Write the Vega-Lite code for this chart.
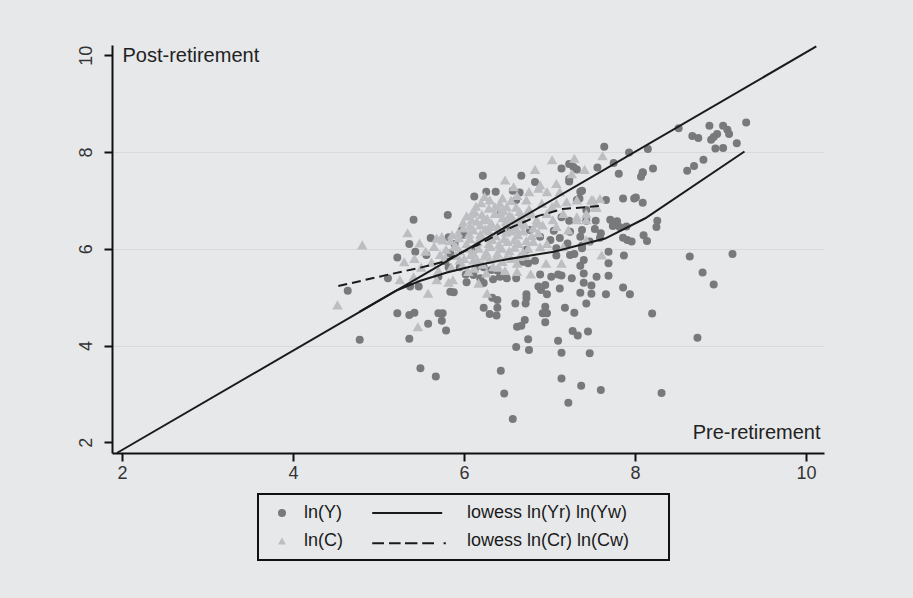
{
  "$schema": "https://vega.github.io/schema/vega-lite/v6.json",
  "width": 712,
  "height": 408,
  "autosize": "none",
  "padding": {"left": 112, "top": 45, "right": 89, "bottom": 145},
  "background": "#e7e8ea",
  "config": {
    "view": {"stroke": null},
    "font": "Liberation Sans",
    "axis": {"labelFont": "Liberation Sans", "titleFont": "Liberation Sans", "titleFontWeight": "normal"},
    "legend": {
      "padding": 10,
      "strokeColor": "#111111",
      "strokeWidth": 2,
      "labelFont": "Liberation Sans",
      "labelFontSize": 18,
      "labelColor": "#1a1a1a",
      "labelOffset": 13,
      "labelLimit": 400,
      "symbolSize": 64,
      "symbolOffset": 5,
      "symbolStrokeWidth": 0,
      "symbolOpacity": 1,
      "columnPadding": 29,
      "rowPadding": 10
    }
  },
  "datasets": {
    "circ": [
      {"x":8.51,"y":8.49,"series":"ln(Y)"},{"x":8.87,"y":8.54,"series":"ln(Y)"},{"x":9.03,"y":8.54,"series":"ln(Y)"},{"x":9.08,"y":8.46,"series":"ln(Y)"},{"x":9.10,"y":8.37,"series":"ln(Y)"},{"x":9.30,"y":8.61,"series":"ln(Y)"},{"x":8.67,"y":8.33,"series":"ln(Y)"},{"x":8.74,"y":8.29,"series":"ln(Y)"},{"x":8.96,"y":8.37,"series":"ln(Y)"},{"x":8.92,"y":8.31,"series":"ln(Y)"},{"x":8.89,"y":8.25,"series":"ln(Y)"},{"x":8.94,"y":8.07,"series":"ln(Y)"},{"x":9.03,"y":8.08,"series":"ln(Y)"},{"x":9.19,"y":8.18,"series":"ln(Y)"},{"x":8.15,"y":8.06,"series":"ln(Y)"},{"x":8.80,"y":7.84,"series":"ln(Y)"},{"x":8.69,"y":7.71,"series":"ln(Y)"},{"x":8.61,"y":7.61,"series":"ln(Y)"},{"x":8.21,"y":7.66,"series":"ln(Y)"},{"x":8.09,"y":7.57,"series":"ln(Y)"},{"x":8.07,"y":7.49,"series":"ln(Y)"},{"x":8.09,"y":6.95,"series":"ln(Y)"},{"x":8.26,"y":6.58,"series":"ln(Y)"},{"x":8.25,"y":6.45,"series":"ln(Y)"},{"x":8.10,"y":6.28,"series":"ln(Y)"},{"x":8.14,"y":6.16,"series":"ln(Y)"},{"x":8.64,"y":5.84,"series":"ln(Y)"},{"x":9.14,"y":5.89,"series":"ln(Y)"},{"x":8.20,"y":4.66,"series":"ln(Y)"},{"x":8.79,"y":5.51,"series":"ln(Y)"},{"x":8.92,"y":5.26,"series":"ln(Y)"},{"x":8.73,"y":4.16,"series":"ln(Y)"},{"x":8.31,"y":3.02,"series":"ln(Y)"},
      {"x":7.64,"y":8.11,"series":"ln(Y)"},{"x":7.93,"y":7.99,"series":"ln(Y)"},{"x":7.75,"y":7.77,"series":"ln(Y)"},{"x":7.81,"y":7.55,"series":"ln(Y)"},{"x":7.14,"y":7.66,"series":"ln(Y)"},{"x":7.23,"y":7.75,"series":"ln(Y)"},{"x":7.32,"y":7.64,"series":"ln(Y)"},{"x":7.56,"y":7.68,"series":"ln(Y)"},{"x":6.67,"y":7.51,"series":"ln(Y)"},{"x":6.22,"y":7.51,"series":"ln(Y)"},{"x":6.83,"y":7.38,"series":"ln(Y)"},{"x":7.23,"y":7.39,"series":"ln(Y)"},{"x":7.36,"y":7.18,"series":"ln(Y)"},{"x":6.26,"y":7.18,"series":"ln(Y)"},{"x":6.37,"y":7.18,"series":"ln(Y)"},{"x":6.65,"y":7.16,"series":"ln(Y)"},{"x":6.61,"y":7.01,"series":"ln(Y)"},{"x":7.66,"y":7.01,"series":"ln(Y)"},{"x":7.86,"y":7.04,"series":"ln(Y)"},{"x":7.99,"y":7.04,"series":"ln(Y)"},{"x":7.54,"y":6.58,"series":"ln(Y)"},{"x":7.43,"y":6.58,"series":"ln(Y)"},{"x":7.23,"y":6.58,"series":"ln(Y)"},{"x":7.71,"y":6.60,"series":"ln(Y)"},{"x":7.74,"y":6.47,"series":"ln(Y)"},{"x":7.82,"y":6.45,"series":"ln(Y)"},{"x":7.90,"y":6.46,"series":"ln(Y)"},{"x":7.24,"y":6.35,"series":"ln(Y)"},{"x":7.38,"y":6.39,"series":"ln(Y)"},{"x":7.60,"y":6.32,"series":"ln(Y)"},{"x":7.05,"y":6.37,"series":"ln(Y)"},{"x":7.01,"y":6.18,"series":"ln(Y)"},{"x":6.77,"y":6.39,"series":"ln(Y)"},{"x":7.43,"y":6.80,"series":"ln(Y)"},{"x":7.32,"y":7.01,"series":"ln(Y)"},{"x":7.23,"y":7.44,"series":"ln(Y)"},{"x":7.38,"y":7.20,"series":"ln(Y)"},{"x":7.35,"y":7.04,"series":"ln(Y)"},{"x":7.14,"y":6.65,"series":"ln(Y)"},{"x":8.01,"y":7.06,"series":"ln(Y)"},{"x":8.09,"y":7.58,"series":"ln(Y)"},{"x":7.28,"y":7.69,"series":"ln(Y)"},{"x":7.79,"y":6.57,"series":"ln(Y)"},{"x":7.53,"y":6.41,"series":"ln(Y)"},{"x":7.38,"y":6.06,"series":"ln(Y)"},{"x":7.91,"y":6.18,"series":"ln(Y)"},
      {"x":7.12,"y":6.22,"series":"ln(Y)"},{"x":7.21,"y":6.11,"series":"ln(Y)"},{"x":7.36,"y":6.25,"series":"ln(Y)"},{"x":7.47,"y":6.15,"series":"ln(Y)"},{"x":7.59,"y":6.23,"series":"ln(Y)"},{"x":7.86,"y":6.23,"series":"ln(Y)"},{"x":7.96,"y":6.15,"series":"ln(Y)"},{"x":7.38,"y":6.01,"series":"ln(Y)"},{"x":7.69,"y":5.94,"series":"ln(Y)"},{"x":7.29,"y":5.89,"series":"ln(Y)"},{"x":7.08,"y":6.01,"series":"ln(Y)"},{"x":7.08,"y":5.86,"series":"ln(Y)"},{"x":6.83,"y":5.75,"series":"ln(Y)"},{"x":6.69,"y":5.77,"series":"ln(Y)"},{"x":7.40,"y":5.77,"series":"ln(Y)"},{"x":7.36,"y":5.65,"series":"ln(Y)"},{"x":7.69,"y":5.70,"series":"ln(Y)"},{"x":7.87,"y":5.86,"series":"ln(Y)"},{"x":6.89,"y":5.47,"series":"ln(Y)"},{"x":7.02,"y":5.42,"series":"ln(Y)"},{"x":7.14,"y":5.45,"series":"ln(Y)"},{"x":7.26,"y":5.39,"series":"ln(Y)"},{"x":7.40,"y":5.49,"series":"ln(Y)"},{"x":7.55,"y":5.42,"series":"ln(Y)"},{"x":7.69,"y":5.44,"series":"ln(Y)"},{"x":7.40,"y":5.30,"series":"ln(Y)"},{"x":7.49,"y":5.24,"series":"ln(Y)"},{"x":7.12,"y":5.18,"series":"ln(Y)"},{"x":6.95,"y":5.25,"series":"ln(Y)"},{"x":6.87,"y":5.22,"series":"ln(Y)"},{"x":6.90,"y":5.15,"series":"ln(Y)"},{"x":6.97,"y":5.06,"series":"ln(Y)"},{"x":7.36,"y":5.09,"series":"ln(Y)"},{"x":7.49,"y":5.07,"series":"ln(Y)"},{"x":7.66,"y":5.06,"series":"ln(Y)"},{"x":7.86,"y":5.20,"series":"ln(Y)"},{"x":7.94,"y":5.06,"series":"ln(Y)"},{"x":7.43,"y":4.87,"series":"ln(Y)"},{"x":6.61,"y":5.39,"series":"ln(Y)"},{"x":6.42,"y":5.42,"series":"ln(Y)"},{"x":6.34,"y":5.37,"series":"ln(Y)"},{"x":6.23,"y":5.29,"series":"ln(Y)"},{"x":6.73,"y":5.06,"series":"ln(Y)"},{"x":6.73,"y":4.98,"series":"ln(Y)"},{"x":6.72,"y":4.87,"series":"ln(Y)"},{"x":6.60,"y":4.87,"series":"ln(Y)"},{"x":6.39,"y":4.78,"series":"ln(Y)"},{"x":6.23,"y":4.78,"series":"ln(Y)"},{"x":6.30,"y":4.65,"series":"ln(Y)"},{"x":6.38,"y":4.62,"series":"ln(Y)"},{"x":6.95,"y":4.80,"series":"ln(Y)"},{"x":6.92,"y":4.67,"series":"ln(Y)"},{"x":6.97,"y":4.67,"series":"ln(Y)"},{"x":7.18,"y":4.78,"series":"ln(Y)"},{"x":7.29,"y":4.68,"series":"ln(Y)"},{"x":6.95,"y":4.48,"series":"ln(Y)"},{"x":6.71,"y":4.53,"series":"ln(Y)"},{"x":6.62,"y":4.39,"series":"ln(Y)"},{"x":6.67,"y":4.41,"series":"ln(Y)"},{"x":7.10,"y":5.47,"series":"ln(Y)"},
      {"x":7.27,"y":4.30,"series":"ln(Y)"},{"x":7.33,"y":4.21,"series":"ln(Y)"},{"x":7.45,"y":4.29,"series":"ln(Y)"},
      {"x":6.75,"y":4.13,"series":"ln(Y)"},{"x":6.61,"y":3.97,"series":"ln(Y)"},{"x":6.76,"y":3.91,"series":"ln(Y)"},{"x":7.10,"y":4.10,"series":"ln(Y)"},{"x":7.14,"y":3.85,"series":"ln(Y)"},{"x":7.47,"y":3.84,"series":"ln(Y)"},{"x":6.43,"y":3.48,"series":"ln(Y)"},{"x":7.14,"y":3.32,"series":"ln(Y)"},{"x":7.37,"y":3.17,"series":"ln(Y)"},{"x":7.60,"y":3.08,"series":"ln(Y)"},{"x":6.47,"y":3.01,"series":"ln(Y)"},{"x":7.22,"y":2.82,"series":"ln(Y)"},{"x":6.57,"y":2.48,"series":"ln(Y)"},
      {"x":5.22,"y":4.67,"series":"ln(Y)"},{"x":5.36,"y":4.63,"series":"ln(Y)"},{"x":5.42,"y":4.68,"series":"ln(Y)"},{"x":5.70,"y":4.67,"series":"ln(Y)"},{"x":5.75,"y":4.67,"series":"ln(Y)"},{"x":5.58,"y":4.45,"series":"ln(Y)"},{"x":5.74,"y":4.51,"series":"ln(Y)"},{"x":5.79,"y":4.31,"series":"ln(Y)"},{"x":5.36,"y":4.14,"series":"ln(Y)"},{"x":4.78,"y":4.12,"series":"ln(Y)"},{"x":5.49,"y":3.53,"series":"ln(Y)"},{"x":5.67,"y":3.36,"series":"ln(Y)"},
      {"x":6.12,"y":7.08,"series":"ln(Y)"},{"x":5.81,"y":6.70,"series":"ln(Y)"},{"x":5.41,"y":6.60,"series":"ln(Y)"},{"x":5.97,"y":6.37,"series":"ln(Y)"},{"x":6.00,"y":6.29,"series":"ln(Y)"},{"x":5.61,"y":6.22,"series":"ln(Y)"},{"x":5.82,"y":6.24,"series":"ln(Y)"},{"x":5.36,"y":6.10,"series":"ln(Y)"},{"x":5.43,"y":5.94,"series":"ln(Y)"},{"x":5.56,"y":5.87,"series":"ln(Y)"},{"x":5.22,"y":5.82,"series":"ln(Y)"},{"x":5.11,"y":5.39,"series":"ln(Y)"},{"x":4.64,"y":5.13,"series":"ln(Y)"},{"x":6.11,"y":5.46,"series":"ln(Y)"},{"x":6.03,"y":5.31,"series":"ln(Y)"},{"x":5.84,"y":5.11,"series":"ln(Y)"},{"x":5.88,"y":5.10,"series":"ln(Y)"},{"x":5.37,"y":5.22,"series":"ln(Y)"},{"x":5.47,"y":5.22,"series":"ln(Y)"},{"x":5.70,"y":5.42,"series":"ln(Y)"},{"x":6.32,"y":5.56,"series":"ln(Y)"},{"x":6.73,"y":5.98,"series":"ln(Y)"},{"x":6.69,"y":5.73,"series":"ln(Y)"},{"x":6.89,"y":6.25,"series":"ln(Y)"},{"x":7.24,"y":5.87,"series":"ln(Y)"},{"x":6.75,"y":5.70,"series":"ln(Y)"},{"x":6.14,"y":5.62,"series":"ln(Y)"},{"x":5.84,"y":5.90,"series":"ln(Y)"},{"x":5.82,"y":5.62,"series":"ln(Y)"},{"x":5.95,"y":5.62,"series":"ln(Y)"},{"x":6.02,"y":5.47,"series":"ln(Y)"},{"x":6.19,"y":5.39,"series":"ln(Y)"},{"x":6.23,"y":5.62,"series":"ln(Y)"},{"x":6.10,"y":5.94,"series":"ln(Y)"},{"x":5.78,"y":5.74,"series":"ln(Y)"},{"x":5.89,"y":6.10,"series":"ln(Y)"},{"x":6.50,"y":6.41,"series":"ln(Y)"},{"x":6.43,"y":6.73,"series":"ln(Y)"},{"x":6.67,"y":6.55,"series":"ln(Y)"},{"x":6.57,"y":7.20,"series":"ln(Y)"},{"x":6.50,"y":5.39,"series":"ln(Y)"},{"x":6.39,"y":4.94,"series":"ln(Y)"},{"x":6.33,"y":4.99,"series":"ln(Y)"},{"x":6.39,"y":5.55,"series":"ln(Y)"}
    ],
    "tri": [
      {"x":4.81,"y":6.08,"series":"ln(C)"},{"x":4.52,"y":4.84,"series":"ln(C)"},{"x":5.34,"y":6.33,"series":"ln(C)"},{"x":5.46,"y":4.39,"series":"ln(C)"},{"x":5.58,"y":5.08,"series":"ln(C)"},{"x":5.30,"y":5.73,"series":"ln(C)"},{"x":5.48,"y":6.12,"series":"ln(C)"},{"x":5.68,"y":6.22,"series":"ln(C)"},{"x":5.74,"y":6.25,"series":"ln(C)"},{"x":5.86,"y":6.29,"series":"ln(C)"},{"x":5.25,"y":5.36,"series":"ln(C)"},{"x":5.41,"y":5.42,"series":"ln(C)"},{"x":5.68,"y":5.36,"series":"ln(C)"},{"x":5.87,"y":5.36,"series":"ln(C)"},{"x":6.27,"y":5.08,"series":"ln(C)"},{"x":6.17,"y":5.29,"series":"ln(C)"},{"x":6.62,"y":5.53,"series":"ln(C)"},{"x":6.78,"y":5.48,"series":"ln(C)"},{"x":6.96,"y":5.70,"series":"ln(C)"},{"x":7.14,"y":5.70,"series":"ln(C)"},{"x":7.61,"y":5.87,"series":"ln(C)"},{"x":7.62,"y":7.92,"series":"ln(C)"},{"x":7.03,"y":7.84,"series":"ln(C)"},{"x":7.29,"y":7.87,"series":"ln(C)"},{"x":7.41,"y":7.64,"series":"ln(C)"},{"x":6.83,"y":7.64,"series":"ln(C)"},{"x":6.48,"y":7.42,"series":"ln(C)"},{"x":6.58,"y":7.28,"series":"ln(C)"},{"x":6.76,"y":7.18,"series":"ln(C)"},{"x":6.89,"y":7.32,"series":"ln(C)"},{"x":7.08,"y":7.35,"series":"ln(C)"},{"x":7.12,"y":7.18,"series":"ln(C)"},{"x":7.26,"y":7.55,"series":"ln(C)"},{"x":7.51,"y":7.01,"series":"ln(C)"},{"x":7.59,"y":7.04,"series":"ln(C)"},{"x":7.55,"y":6.86,"series":"ln(C)"},{"x":7.43,"y":6.60,"series":"ln(C)"},{"x":7.32,"y":6.60,"series":"ln(C)"},{"x":7.22,"y":6.39,"series":"ln(C)"},{"x":7.43,"y":6.18,"series":"ln(C)"},{"x":7.16,"y":6.04,"series":"ln(C)"},{"x":6.97,"y":6.11,"series":"ln(C)"},{"x":6.89,"y":6.04,"series":"ln(C)"},{"x":6.65,"y":5.84,"series":"ln(C)"},{"x":6.50,"y":5.84,"series":"ln(C)"},{"x":6.34,"y":5.63,"series":"ln(C)"},{"x":6.11,"y":5.77,"series":"ln(C)"},{"x":6.05,"y":5.53,"series":"ln(C)"},{"x":5.95,"y":5.77,"series":"ln(C)"},{"x":5.91,"y":6.04,"series":"ln(C)"},{"x":6.09,"y":6.60,"series":"ln(C)"},{"x":6.30,"y":7.01,"series":"ln(C)"},{"x":6.36,"y":6.87,"series":"ln(C)"},{"x":6.42,"y":6.94,"series":"ln(C)"},{"x":6.50,"y":6.87,"series":"ln(C)"},{"x":6.56,"y":6.66,"series":"ln(C)"},{"x":6.65,"y":6.53,"series":"ln(C)"},{"x":6.73,"y":6.73,"series":"ln(C)"},{"x":6.85,"y":6.60,"series":"ln(C)"},{"x":6.97,"y":6.73,"series":"ln(C)"},{"x":7.04,"y":6.60,"series":"ln(C)"},{"x":7.08,"y":6.94,"series":"ln(C)"},{"x":6.09,"y":6.73,"series":"ln(C)"},{"x":5.75,"y":6.18,"series":"ln(C)"},{"x":5.82,"y":5.31,"series":"ln(C)"},
      {"x":6.87,"y":7.25,"series":"ln(C)"},{"x":6.97,"y":7.18,"series":"ln(C)"},{"x":6.40,"y":6.87,"series":"ln(C)"},{"x":6.65,"y":6.77,"series":"ln(C)"},{"x":6.73,"y":7.01,"series":"ln(C)"},{"x":6.91,"y":6.94,"series":"ln(C)"},{"x":7.20,"y":6.97,"series":"ln(C)"},{"x":7.32,"y":7.01,"series":"ln(C)"},{"x":7.49,"y":7.01,"series":"ln(C)"},{"x":7.53,"y":6.86,"series":"ln(C)"},{"x":6.23,"y":6.60,"series":"ln(C)"},{"x":6.30,"y":6.46,"series":"ln(C)"},{"x":6.42,"y":6.73,"series":"ln(C)"},{"x":6.54,"y":6.60,"series":"ln(C)"},{"x":6.62,"y":6.39,"series":"ln(C)"},{"x":6.85,"y":6.53,"series":"ln(C)"},{"x":7.08,"y":6.46,"series":"ln(C)"},{"x":7.32,"y":6.66,"series":"ln(C)"},{"x":7.43,"y":6.73,"series":"ln(C)"},{"x":7.16,"y":6.73,"series":"ln(C)"},{"x":6.76,"y":6.82,"series":"ln(C)"},{"x":7.03,"y":6.87,"series":"ln(C)"},
      {"x":6.03,"y":6.68,"series":"ln(C)"},{"x":6.13,"y":6.76,"series":"ln(C)"},{"x":6.21,"y":6.71,"series":"ln(C)"},{"x":6.29,"y":6.84,"series":"ln(C)"},{"x":6.36,"y":6.73,"series":"ln(C)"},{"x":6.46,"y":6.79,"series":"ln(C)"},{"x":6.53,"y":6.70,"series":"ln(C)"},{"x":6.61,"y":6.86,"series":"ln(C)"},{"x":6.67,"y":6.66,"series":"ln(C)"},{"x":6.79,"y":6.72,"series":"ln(C)"},
      {"x":5.99,"y":6.55,"series":"ln(C)"},{"x":6.07,"y":6.47,"series":"ln(C)"},{"x":6.15,"y":6.57,"series":"ln(C)"},{"x":6.19,"y":6.49,"series":"ln(C)"},{"x":6.27,"y":6.63,"series":"ln(C)"},{"x":6.32,"y":6.53,"series":"ln(C)"},{"x":6.39,"y":6.46,"series":"ln(C)"},{"x":6.45,"y":6.64,"series":"ln(C)"},{"x":6.49,"y":6.56,"series":"ln(C)"},{"x":6.58,"y":6.45,"series":"ln(C)"},{"x":6.64,"y":6.61,"series":"ln(C)"},{"x":6.71,"y":6.50,"series":"ln(C)"},{"x":6.81,"y":6.43,"series":"ln(C)"},{"x":6.92,"y":6.49,"series":"ln(C)"},
      {"x":5.93,"y":6.33,"series":"ln(C)"},{"x":5.99,"y":6.43,"series":"ln(C)"},{"x":6.06,"y":6.31,"series":"ln(C)"},{"x":6.11,"y":6.39,"series":"ln(C)"},{"x":6.19,"y":6.30,"series":"ln(C)"},{"x":6.25,"y":6.41,"series":"ln(C)"},{"x":6.29,"y":6.37,"series":"ln(C)"},{"x":6.37,"y":6.27,"series":"ln(C)"},{"x":6.41,"y":6.41,"series":"ln(C)"},{"x":6.49,"y":6.34,"series":"ln(C)"},{"x":6.54,"y":6.37,"series":"ln(C)"},{"x":6.63,"y":6.29,"series":"ln(C)"},{"x":6.69,"y":6.37,"series":"ln(C)"},{"x":6.79,"y":6.27,"series":"ln(C)"},{"x":6.87,"y":6.33,"series":"ln(C)"},
      {"x":5.84,"y":6.17,"series":"ln(C)"},{"x":5.94,"y":6.23,"series":"ln(C)"},{"x":6.03,"y":6.11,"series":"ln(C)"},{"x":6.07,"y":6.21,"series":"ln(C)"},{"x":6.16,"y":6.14,"series":"ln(C)"},{"x":6.21,"y":6.25,"series":"ln(C)"},{"x":6.29,"y":6.11,"series":"ln(C)"},{"x":6.33,"y":6.19,"series":"ln(C)"},{"x":6.41,"y":6.09,"series":"ln(C)"},{"x":6.47,"y":6.21,"series":"ln(C)"},{"x":6.51,"y":6.15,"series":"ln(C)"},{"x":6.59,"y":6.19,"series":"ln(C)"},{"x":6.64,"y":6.11,"series":"ln(C)"},{"x":6.73,"y":6.17,"series":"ln(C)"},{"x":6.81,"y":6.15,"series":"ln(C)"},
      {"x":5.79,"y":5.99,"series":"ln(C)"},{"x":5.89,"y":6.06,"series":"ln(C)"},{"x":5.95,"y":5.96,"series":"ln(C)"},{"x":6.05,"y":6.01,"series":"ln(C)"},{"x":6.11,"y":5.91,"series":"ln(C)"},{"x":6.17,"y":6.01,"series":"ln(C)"},{"x":6.26,"y":5.93,"series":"ln(C)"},{"x":6.31,"y":6.05,"series":"ln(C)"},{"x":6.39,"y":5.91,"series":"ln(C)"},{"x":6.44,"y":6.01,"series":"ln(C)"},{"x":6.53,"y":5.96,"series":"ln(C)"},{"x":6.59,"y":6.03,"series":"ln(C)"},{"x":6.69,"y":5.93,"series":"ln(C)"},{"x":6.75,"y":6.01,"series":"ln(C)"},
      {"x":5.78,"y":5.82,"series":"ln(C)"},{"x":5.90,"y":5.86,"series":"ln(C)"},{"x":6.00,"y":5.80,"series":"ln(C)"},{"x":6.08,"y":5.88,"series":"ln(C)"},{"x":6.16,"y":5.76,"series":"ln(C)"},{"x":6.24,"y":5.85,"series":"ln(C)"},{"x":6.30,"y":5.78,"series":"ln(C)"},{"x":6.38,"y":5.84,"series":"ln(C)"},{"x":6.45,"y":5.74,"series":"ln(C)"},{"x":6.55,"y":5.80,"series":"ln(C)"},{"x":6.62,"y":5.70,"series":"ln(C)"},{"x":6.72,"y":5.86,"series":"ln(C)"},
      {"x":5.85,"y":5.62,"series":"ln(C)"},{"x":5.98,"y":5.66,"series":"ln(C)"},{"x":6.12,"y":5.60,"series":"ln(C)"},{"x":6.22,"y":5.68,"series":"ln(C)"},{"x":6.40,"y":5.62,"series":"ln(C)"},{"x":6.48,"y":5.55,"series":"ln(C)"},{"x":6.26,"y":5.50,"series":"ln(C)"},{"x":5.70,"y":5.55,"series":"ln(C)"},{"x":5.62,"y":5.72,"series":"ln(C)"},{"x":5.55,"y":5.95,"series":"ln(C)"},{"x":5.65,"y":6.05,"series":"ln(C)"},{"x":5.72,"y":5.88,"series":"ln(C)"},{"x":5.50,"y":5.62,"series":"ln(C)"},{"x":5.42,"y":5.80,"series":"ln(C)"},
      {"x":6.20,"y":6.95,"series":"ln(C)"},{"x":6.14,"y":6.88,"series":"ln(C)"},{"x":6.45,"y":7.05,"series":"ln(C)"},{"x":6.55,"y":7.00,"series":"ln(C)"},{"x":6.62,"y":7.10,"series":"ln(C)"},{"x":6.24,"y":7.08,"series":"ln(C)"}
    ],
    "lines": [
      {"x":1.94,"y":1.78,"line":"diag"},{"x":10.12,"y":10.18,"line":"diag"},
      {"x":4.78,"y":4.70,"line":"lowY"},{"x":5.20,"y":5.13,"line":"lowY"},{"x":5.49,"y":5.34,"line":"lowY"},{"x":5.80,"y":5.51,"line":"lowY"},{"x":6.07,"y":5.63,"line":"lowY"},{"x":6.46,"y":5.77,"line":"lowY"},{"x":7.05,"y":5.94,"line":"lowY"},{"x":7.65,"y":6.21,"line":"lowY"},{"x":8.12,"y":6.63,"line":"lowY"},{"x":9.28,"y":8.01,"line":"lowY"},
      {"x":4.53,"y":5.23,"line":"lowC"},{"x":5.10,"y":5.46,"line":"lowC"},{"x":5.49,"y":5.61,"line":"lowC"},{"x":5.76,"y":5.73,"line":"lowC"},{"x":5.95,"y":5.91,"line":"lowC"},{"x":6.19,"y":6.10,"line":"lowC"},{"x":6.50,"y":6.40,"line":"lowC"},{"x":6.87,"y":6.68,"line":"lowC"},{"x":7.15,"y":6.82,"line":"lowC"},{"x":7.62,"y":6.89,"line":"lowC"}
    ]
  },
  "layer": [
    {
      "data": {"name": "circ"},
      "mark": {"type": "point", "filled": true, "size": 64, "opacity": 1, "strokeWidth": 0},
      "encoding": {
        "x": {
          "field": "x", "type": "quantitative",
          "scale": {"domain": [1.883, 10.21], "nice": false, "zero": false},
          "axis": {
            "values": [2, 4, 6, 8, 10], "format": "d", "grid": false,
            "title": "Pre-retirement", "titleX": 708, "titleY": -21, "titleAlign": "right", "titleBaseline": "middle", "titleAngle": 0,
            "titleFontSize": 20, "titleColor": "#222222",
            "labelFontSize": 18, "labelColor": "#333333", "labelPadding": 3, "labelFlush": false, "labelOverlap": false,
            "tickSize": 8, "tickWidth": 2, "tickColor": "#111111", "domainColor": "#111111", "domainWidth": 2
          }
        },
        "y": {
          "field": "y", "type": "quantitative",
          "scale": {"domain": [1.78, 10.21], "nice": false, "zero": false},
          "axis": {
            "values": [2, 4, 6, 8, 10], "format": "d",
            "grid": true,
            "gridColor": {"condition": {"test": "datum.value === 2 || datum.value === 10", "value": "transparent"}, "value": "#d8d9db"},
            "gridWidth": 1,
            "title": "Post-retirement", "titleX": 10, "titleY": 10, "titleAlign": "left", "titleBaseline": "middle", "titleAngle": 0,
            "titleFontSize": 20, "titleColor": "#222222",
            "labelAngle": 270, "labelAlign": "center", "labelBaseline": "alphabetic", "labelPadding": 13,
            "labelFontSize": 18, "labelColor": "#333333", "labelFlush": false, "labelOverlap": false,
            "tickSize": 8, "tickWidth": 2, "tickColor": "#111111", "domainColor": "#111111", "domainWidth": 2
          }
        },
        "shape": {
          "field": "series", "type": "nominal",
          "scale": {
            "domain": ["ln(Y)", "ln(C)", "lowess ln(Yr) ln(Yw)", "lowess ln(Cr) ln(Cw)"],
            "range": [
              "circle",
              "triangle-up",
              "M53.5,0M-18.2,-0.25H-0.7V0.25H-18.2Z",
              "M53.5,0M-18.2,0.3H-15.25V0.8H-18.2ZM-14,0.3H-11.1V0.8H-14ZM-10,0.3H-6.9V0.8H-10ZM-5.7,0.3H-2.75V0.8H-5.7ZM-0.35,0.3H0.2V0.8H-0.35Z"
            ]
          },
          "legend": {"title": null, "orient": "none", "legendX": 146, "legendY": 449, "columns": 2}
        },
        "color": {
          "field": "series", "type": "nominal",
          "scale": {
            "domain": ["ln(Y)", "ln(C)", "lowess ln(Yr) ln(Yw)", "lowess ln(Cr) ln(Cw)"],
            "range": ["#78797b", "#bdbec1", "#1a1a1a", "#1a1a1a"]
          },
          "legend": {"title": null, "orient": "none", "legendX": 146, "legendY": 449, "columns": 2}
        }
      }
    },
    {
      "data": {"name": "tri"},
      "mark": {"type": "point", "filled": true, "size": 110, "opacity": 1, "strokeWidth": 0},
      "encoding": {
        "x": {"field": "x", "type": "quantitative"},
        "y": {"field": "y", "type": "quantitative"},
        "shape": {
          "field": "series", "type": "nominal",
          "scale": {
            "domain": ["ln(Y)", "ln(C)", "lowess ln(Yr) ln(Yw)", "lowess ln(Cr) ln(Cw)"],
            "range": [
              "circle",
              "triangle-up",
              "M53.5,0M-18.2,-0.25H-0.7V0.25H-18.2Z",
              "M53.5,0M-18.2,0.3H-15.25V0.8H-18.2ZM-14,0.3H-11.1V0.8H-14ZM-10,0.3H-6.9V0.8H-10ZM-5.7,0.3H-2.75V0.8H-5.7ZM-0.35,0.3H0.2V0.8H-0.35Z"
            ]
          },
          "legend": {"title": null, "orient": "none", "legendX": 146, "legendY": 449, "columns": 2}
        },
        "color": {
          "field": "series", "type": "nominal",
          "scale": {
            "domain": ["ln(Y)", "ln(C)", "lowess ln(Yr) ln(Yw)", "lowess ln(Cr) ln(Cw)"],
            "range": ["#78797b", "#bdbec1", "#1a1a1a", "#1a1a1a"]
          },
          "legend": {"title": null, "orient": "none", "legendX": 146, "legendY": 449, "columns": 2}
        }
      }
    },
    {
      "data": {"name": "lines"},
      "transform": [{"filter": "datum.line === 'diag'"}],
      "mark": {"type": "line", "color": "#1a1a1a", "strokeWidth": 2},
      "encoding": {"x": {"field": "x", "type": "quantitative"}, "y": {"field": "y", "type": "quantitative"}}
    },
    {
      "data": {"name": "lines"},
      "transform": [{"filter": "datum.line === 'lowY'"}],
      "mark": {"type": "line", "color": "#1a1a1a", "strokeWidth": 2},
      "encoding": {"x": {"field": "x", "type": "quantitative"}, "y": {"field": "y", "type": "quantitative"}}
    },
    {
      "data": {"name": "lines"},
      "transform": [{"filter": "datum.line === 'lowC'"}],
      "mark": {"type": "line", "color": "#1a1a1a", "strokeWidth": 2, "strokeDash": [9, 5]},
      "encoding": {"x": {"field": "x", "type": "quantitative"}, "y": {"field": "y", "type": "quantitative"}}
    }
  ]
}
